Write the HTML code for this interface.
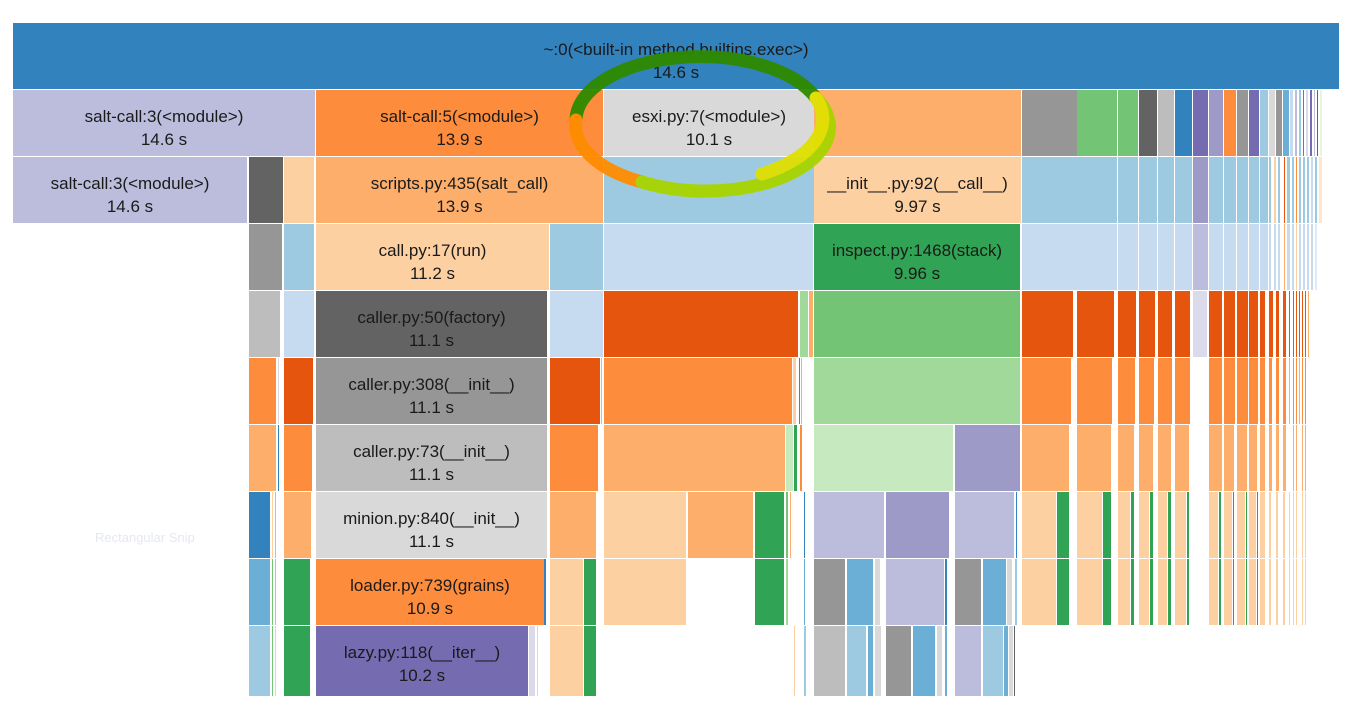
<!DOCTYPE html>
<html><head><meta charset="utf-8"><style>
html,body{margin:0;padding:0;background:#fff;width:1352px;height:711px;overflow:hidden}
svg{display:block}
text{font-family:"Liberation Sans",Arial,sans-serif;font-size:17px;fill:#1a1a1a}
</style></head><body>
<svg id="chart" width="1352" height="711">
  <text x="95" y="542" style="font-size:13px;fill:#e4e8f0">Rectangular Snip</text>
  <g id="frames"></g>
  <g id="labels"></g>
  <g fill="none" stroke-width="13" stroke-linecap="round" opacity="0.95">
    <path d="M576,120 A124,64 0 0 1 816,98" stroke="#2f8a00"/>
    <path d="M576,120 A124,64 0 0 0 642,182" stroke="#ff8c00"/>
    <path d="M642,182 A124,64 0 0 0 816,98" stroke="#a8d400"/>
    <path d="M762,174 A124,64 0 0 0 816,98" stroke="#e0e000"/>
  </g>
</svg>
<script>
// samples: [depth, startSample, endSample, color, label, time]
const totalSamples = 1327;
const topFrames = [
 [0,0,1327,'#3182bd','~:0(<built-in method builtins.exec>)','14.6 s'],
 [1,0,303,'#bcbddc','salt-call:3(<module>)','14.6 s'],
 [1,303,591,'#fd8d3c','salt-call:5(<module>)','13.9 s'],
 [1,591,802,'#d9d9d9','esxi.py:7(<module>)','10.1 s'],
 [1,801,1009,'#fdae6b'],
 [2,0,235,'#bcbddc','salt-call:3(<module>)','14.6 s'],[2,236,271,'#636363'],[2,271,302,'#fdd0a2'],
 [2,303,591,'#fdae6b','scripts.py:435(salt_call)','13.9 s'],[2,591,802,'#9ecae1'],
 [2,801,1009,'#fdd0a2','__init__.py:92(__call__)','9.97 s'],
 [3,236,270,'#969696'],[3,271,302,'#9ecae1'],[3,303,537,'#fdd0a2','call.py:17(run)','11.2 s'],
 [3,537,591,'#9ecae1'],[3,591,801,'#c6dbef'],[3,801,1008,'#31a354','inspect.py:1468(stack)','9.96 s']
];
const midFrames = [
 [4,236,268,'#bdbdbd'],[4,271,302,'#c6dbef'],[4,303,535,'#636363','caller.py:50(factory)','11.1 s'],
 [4,537,591,'#c6dbef'],[4,591,786,'#e6550d'],[4,787,796,'#a1d99b'],[4,796,801,'#fdae6b'],[4,801,1008,'#74c476'],
 [5,236,264,'#fd8d3c'],[5,265,267,'#d9d9d9'],[5,271,301,'#e6550d'],[5,303,535,'#969696','caller.py:308(__init__)','11.1 s'],
 [5,537,588,'#e6550d'],[5,588,590,'#a1d99b'],[5,591,780,'#fd8d3c'],[5,780,784,'#fdd0a2'],[5,786,788,'#e6550d'],
 [5,788,790,'#bdbdbd'],[5,801,1008,'#a1d99b'],
 [6,236,264,'#fdae6b'],[6,265,267,'#3182bd'],[6,271,300,'#fd8d3c'],[6,303,535,'#bdbdbd','caller.py:73(__init__)','11.1 s'],
 [6,537,586,'#fd8d3c'],[6,591,773,'#fdae6b'],[6,773,781,'#c7e9c0'],[6,781,785,'#31a354'],[6,787,790,'#fd8d3c'],
 [6,801,941,'#c7e9c0'],[6,942,1008,'#9e9ac8']
];
const lowFrames = [
 [7,236,258,'#3182bd'],[7,259,261,'#fdd0a2'],[7,262,264,'#9ecae1'],[7,271,299,'#fdae6b'],
 [7,303,535,'#d9d9d9','minion.py:840(__init__)','11.1 s'],[7,537,584,'#fdae6b'],[7,591,674,'#fdd0a2'],
 [7,675,741,'#fdae6b'],[7,742,772,'#31a354'],[7,773,776,'#74c476'],[7,777,779,'#fdae6b'],[7,791,793,'#3182bd'],
 [7,801,872,'#bcbddc'],[7,873,937,'#9e9ac8'],[7,942,1002,'#bcbddc'],[7,1003,1005,'#3182bd'],
 [8,236,258,'#6baed6'],[8,259,261,'#74c476'],[8,262,264,'#9ecae1'],[8,271,298,'#31a354'],
 [8,303,532,'#fd8d3c','loader.py:739(grains)','10.9 s'],[8,531,534,'#3182bd'],[8,537,571,'#fdd0a2'],[8,571,584,'#31a354'],
 [8,591,674,'#fdd0a2'],[8,742,772,'#31a354'],[8,773,776,'#a1d99b'],[8,791,793,'#6baed6'],
 [8,801,833,'#969696'],[8,834,861,'#6baed6'],[8,862,868,'#d9d9d9'],[8,873,932,'#bcbddc'],[8,932,935,'#3182bd'],
 [8,942,969,'#969696'],[8,970,994,'#6baed6'],[8,994,1000,'#d9d9d9'],[8,1002,1005,'#9ecae1'],
 [9,236,258,'#9ecae1'],[9,259,261,'#74c476'],[9,262,264,'#c6dbef'],[9,271,298,'#31a354'],
 [9,303,516,'#756bb1','lazy.py:118(__iter__)','10.2 s'],[9,516,523,'#dadaeb'],[9,524,526,'#fdd0a2'],
 [9,537,571,'#fdd0a2'],[9,571,584,'#31a354'],[9,781,783,'#fdd0a2'],[9,791,794,'#9ecae1'],
 [9,801,833,'#bdbdbd'],[9,834,854,'#9ecae1'],[9,855,861,'#6baed6'],[9,862,869,'#d9d9d9'],
 [9,873,899,'#969696'],[9,900,923,'#6baed6'],[9,924,930,'#d9d9d9'],[9,932,935,'#6baed6'],
 [9,942,969,'#bcbddc'],[9,970,991,'#9ecae1'],[9,991,996,'#6baed6'],[9,996,1001,'#d9d9d9'],[9,1001,1003,'#636363']
];
const rightD1 = [
 [1,1009,1065,'#969696'],[1,1064,1105,'#74c476'],[1,1105,1126,'#74c476'],[1,1126,1145,'#636363'],
 [1,1145,1162,'#bdbdbd'],[1,1162,1180,'#3182bd'],[1,1180,1196,'#756bb1'],[1,1196,1211,'#9e9ac8'],
 [1,1211,1224,'#fd8d3c'],[1,1224,1236,'#969696'],[1,1236,1247,'#756bb1'],[1,1247,1256,'#9ecae1'],
 [1,1256,1263,'#d9d9d9'],[1,1263,1270,'#969696'],[1,1270,1277,'#6baed6'],[1,1277,1281,'#c6dbef'],
 [1,1282,1285,'#bcbddc'],[1,1286,1289,'#9ecae1'],[1,1290,1292,'#e6550d'],[1,1293,1296,'#dadaeb'],
 [1,1297,1300,'#756bb1'],[1,1301,1303,'#bcbddc'],[1,1304,1306,'#636363'],[1,1307,1310,'#e5f5e0']
];
const rightD2 = [
 [2,1009,1065,'#9ecae1'],[2,1064,1105,'#9ecae1'],[2,1105,1126,'#9ecae1'],[2,1126,1145,'#9ecae1'],
 [2,1145,1162,'#9ecae1'],[2,1162,1180,'#9ecae1'],[2,1180,1196,'#9e9ac8'],[2,1196,1211,'#9ecae1'],
 [2,1211,1224,'#9ecae1'],[2,1224,1236,'#9ecae1'],[2,1236,1247,'#9ecae1'],[2,1247,1256,'#9ecae1'],
 [2,1256,1259,'#9ecae1'],[2,1261,1264,'#fdd0a2'],[2,1265,1268,'#9ecae1'],[2,1271,1273,'#e6550d'],
 [2,1274,1278,'#9ecae1'],[2,1279,1282,'#9ecae1'],[2,1283,1285,'#fd8d3c'],[2,1286,1289,'#9ecae1'],
 [2,1290,1293,'#9ecae1'],[2,1294,1297,'#9ecae1'],[2,1298,1301,'#c6dbef'],[2,1302,1305,'#9ecae1'],[2,1306,1310,'#fee6ce']
];
const rightD3 = [
 [3,1009,1065,'#c6dbef'],[3,1064,1105,'#c6dbef'],[3,1105,1126,'#c6dbef'],[3,1126,1145,'#c6dbef'],
 [3,1145,1162,'#c6dbef'],[3,1162,1180,'#c6dbef'],[3,1180,1196,'#bcbddc'],[3,1196,1211,'#c6dbef'],
 [3,1211,1224,'#c6dbef'],[3,1224,1236,'#c6dbef'],[3,1236,1247,'#c6dbef'],[3,1247,1256,'#c6dbef'],
 [3,1256,1259,'#c6dbef'],[3,1261,1264,'#c6dbef'],[3,1265,1268,'#c6dbef'],[3,1271,1273,'#fdae6b'],
 [3,1274,1278,'#c6dbef'],[3,1279,1282,'#c6dbef'],[3,1283,1285,'#fdd0a2'],[3,1286,1289,'#c6dbef'],
 [3,1290,1293,'#c6dbef'],[3,1294,1297,'#c6dbef'],[3,1298,1301,'#c6dbef'],[3,1302,1305,'#deebf7']
];
const rightD456 = [
 [4,1009,1061,'#e6550d'],[4,1064,1102,'#e6550d'],[4,1105,1124,'#e6550d'],[4,1126,1143,'#e6550d'],
 [4,1145,1160,'#e6550d'],[4,1162,1178,'#e6550d'],[4,1180,1195,'#dadaeb'],[4,1196,1210,'#e6550d'],
 [4,1211,1223,'#e6550d'],[4,1224,1236,'#e6550d'],[4,1236,1246,'#e6550d'],[4,1247,1253,'#e6550d'],
 [4,1256,1261,'#e6550d'],[4,1263,1267,'#e6550d'],[4,1270,1274,'#e6550d'],[4,1276,1278,'#e6550d'],
 [4,1280,1282,'#e6550d'],[4,1283,1285,'#e6550d'],[4,1286,1288,'#e6550d'],[4,1289,1291,'#e6550d'],
 [4,1292,1294,'#e6550d'],[4,1295,1297,'#fdae6b'],
 [5,1009,1059,'#fd8d3c'],[5,1064,1100,'#fd8d3c'],[5,1105,1123,'#fd8d3c'],[5,1126,1142,'#fd8d3c'],
 [5,1145,1160,'#fd8d3c'],[5,1162,1178,'#fd8d3c'],[5,1196,1210,'#fd8d3c'],[5,1211,1223,'#fd8d3c'],
 [5,1224,1236,'#fd8d3c'],[5,1236,1246,'#fd8d3c'],[5,1247,1253,'#fd8d3c'],[5,1256,1260,'#fd8d3c'],
 [5,1263,1267,'#fd8d3c'],[5,1270,1274,'#fd8d3c'],[5,1276,1278,'#9ecae1'],[5,1280,1282,'#fd8d3c'],
 [5,1283,1285,'#fd8d3c'],[5,1286,1288,'#a1d99b'],[5,1289,1291,'#fd8d3c'],[5,1292,1294,'#fd8d3c'],
 [6,1009,1057,'#fdae6b'],[6,1064,1099,'#fdae6b'],[6,1105,1122,'#fdae6b'],[6,1126,1141,'#fdae6b'],
 [6,1145,1159,'#fdae6b'],[6,1162,1177,'#fdae6b'],[6,1196,1210,'#fdae6b'],[6,1211,1222,'#fdae6b'],
 [6,1224,1235,'#fdae6b'],[6,1236,1245,'#fdae6b'],[6,1247,1253,'#fdae6b'],[6,1256,1260,'#fdae6b'],
 [6,1263,1267,'#fdae6b'],[6,1270,1274,'#fdae6b'],[6,1280,1282,'#fdae6b'],[6,1283,1285,'#fdae6b'],
 [6,1289,1291,'#fdae6b'],[6,1292,1294,'#fdae6b']
];
const rightD78 = [];
const pairStarts = [[1009,1044,1057],[1064,1090,1099],[1105,1118,1122],[1126,1137,1141],[1145,1155,1159],[1162,1174,1177],[1196,1206,1209],[1211,1220,1222],[1224,1233,1235],[1236,1244,1246]];
const sliverD78 = [[1247,1253],[1256,1259],[1263,1266],[1270,1273],[1276,1278],[1280,1282],[1283,1285],[1289,1291],[1292,1294]];

const svg = document.getElementById('chart');
const gF = document.getElementById('frames');
const gL = document.getElementById('labels');
const NS = 'http://www.w3.org/2000/svg';
const x0 = 13, plotW = 1327, rowTop = 23, rowStep = 67, rowH = 66;
const xScale = s => x0 + s * plotW / totalSamples;
const yScale = d => rowTop + d * rowStep;

[8,7].forEach(d => {
  pairStarts.forEach(p => { rightD78.push([d,p[0],p[1],'#fdd0a2']); rightD78.push([d,p[1],p[2],'#31a354']); });
  sliverD78.forEach(p => rightD78.push([d,p[0],p[1],'#fdd0a2']));
});

function draw(list){
  list.forEach(f => {
    const [d,s,e,c,label,time] = f;
    const r = document.createElementNS(NS,'rect');
    const xa = xScale(s), xb = xScale(e);
    r.setAttribute('x', xa);
    r.setAttribute('y', yScale(d));
    r.setAttribute('width', Math.max(1, xb - xa - 1));
    r.setAttribute('height', d === 9 ? 70 : rowH);
    r.setAttribute('fill', c);
    
    
    gF.appendChild(r);
    if (label) {
      const cx = xa + (xb - xa - 1) / 2, cy = yScale(d) + rowH / 2;
      const t1 = document.createElementNS(NS,'text');
      t1.setAttribute('x', cx); t1.setAttribute('y', cy - 1);
      t1.setAttribute('text-anchor','middle');
      t1.textContent = label;
      
      
      gL.appendChild(t1);
      const t2 = document.createElementNS(NS,'text');
      t2.setAttribute('x', cx); t2.setAttribute('y', cy + 22);
      t2.setAttribute('text-anchor','middle');
      t2.textContent = time;
      
      
      gL.appendChild(t2);
    }
  });
}
[topFrames, midFrames, lowFrames, rightD1, rightD2, rightD3, rightD456, rightD78].forEach(draw);
</script>
</body></html>
